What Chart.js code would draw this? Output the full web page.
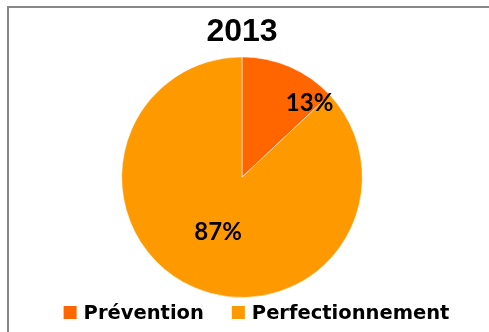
<!DOCTYPE html>
<html>
<head>
<meta charset="utf-8">
<script src="https://cdn.jsdelivr.net/npm/chart.js@4"></script>
<style>
  html, body { margin: 0; padding: 0; background: #fff; overflow: hidden; }
  #frame { position: absolute; left: 7px; top: 6px; width: 600px; height: 400px;
           border-top: 2px solid #878787; border-left: 2px solid #878787; }
  #pieChart { position: absolute; left: 0; top: 0; }
</style>
</head>
<body>
<div id="frame"></div>
<canvas id="pieChart" width="489" height="332"></canvas>
<script>
// ── DATA ──
const chartTitle = '2013';
const categories = ['Prévention', 'Perfectionnement'];
const shares = [13, 87];
const sliceColors = ['#ff6600', '#ff9900'];

// where each % label sits: fraction of radius, fraction along the slice
const labelSpots = [{ r: 0.83, t: 0.91 }, { r: 0.5, t: 0.5 }];

const labelFont = 'bold 24px Lato, "DejaVu Sans", sans-serif';
const legendFont = 'bold 19.5px "DejaVu Sans", sans-serif';

// percent labels on slices
const sliceLabels = {
  id: 'sliceLabels',
  afterDatasetsDraw(chart) {
    const { ctx } = chart;
    const meta = chart.getDatasetMeta(0);
    ctx.save();
    ctx.font = labelFont;
    ctx.fillStyle = '#000';
    ctx.textAlign = 'center';
    ctx.textBaseline = 'middle';
    meta.data.forEach((arc, i) => {
      const p = arc.getProps(['x', 'y', 'startAngle', 'endAngle', 'outerRadius'], true);
      const spot = labelSpots[i];
      const a = p.startAngle + (p.endAngle - p.startAngle) * spot.t;
      const rr = p.outerRadius * spot.r;
      ctx.fillText(shares[i] + '%', p.x + Math.cos(a) * rr, p.y + Math.sin(a) * rr);
    });
    ctx.restore();
  },
};

// bottom legend, drawn by hand for spacing control
const bottomLegend = {
  id: 'bottomLegend',
  afterDraw(chart) {
    const { ctx } = chart;
    const box = 13, gapText = 7, gapItem = 28;
    ctx.save();
    ctx.font = legendFont;
    const widths = categories.map(c => box + gapText + ctx.measureText(c).width);
    const total = widths.reduce((s, w) => s + w, 0) + gapItem * (categories.length - 1);
    let x = chart.width / 2 + 12 - total / 2;
    const y = 312.5;
    ctx.textBaseline = 'middle';
    ctx.textAlign = 'left';
    categories.forEach((c, i) => {
      ctx.fillStyle = sliceColors[i];
      ctx.fillRect(x, y - 6.5, box, box);
      ctx.fillStyle = '#000';
      ctx.fillText(c, x + box + gapText, y + 1);
      x += widths[i] + gapItem;
    });
    ctx.restore();
  },
};

window.addEventListener('DOMContentLoaded', () => {
  const canvas = document.getElementById('pieChart');
  new Chart(canvas.getContext('2d'), {
    type: 'pie',
    data: {
      labels: categories,
      datasets: [{
        data: shares,
        backgroundColor: sliceColors,
        borderColor: 'rgba(255,255,255,0.5)',
        borderWidth: 1,
      }],
    },
    options: {
      responsive: false,
      animation: false,
      layout: { padding: { top: 0, bottom: 34, left: 0, right: 5 } },
      plugins: {
        legend: { display: false },
        tooltip: { enabled: false },
        title: {
          display: true,
          text: chartTitle,
          color: '#000',
          font: { size: 32, weight: 'bold', family: '"Liberation Sans", Arial, sans-serif' },
          padding: { top: 13, bottom: 5 },
        },
      },
    },
    plugins: [sliceLabels, bottomLegend],
  });
});
</script>
</body>
</html>
